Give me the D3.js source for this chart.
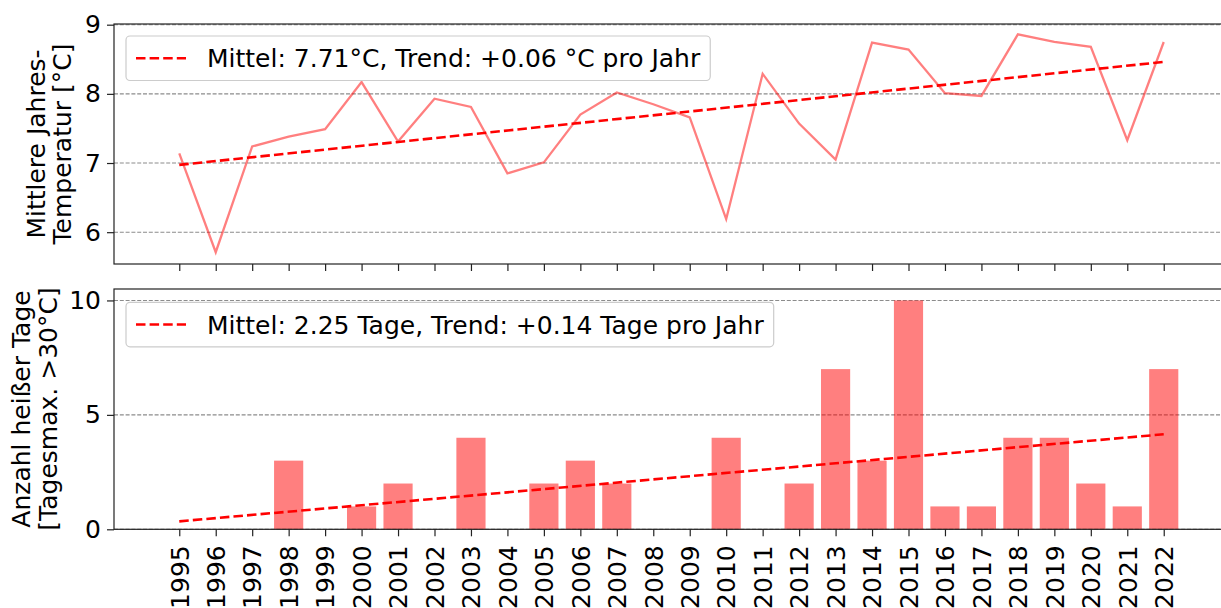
<!DOCTYPE html>
<html>
<head>
<meta charset="utf-8">
<script src="https://cdn.jsdelivr.net/npm/d3@7"></script>
<style>
  body { margin: 0; background: #fff; }
  text { font-family: "DejaVu Sans", sans-serif; fill: #000; }
</style>
</head>
<body>
<svg id="fig" width="1221" height="608"></svg>
<script>
// data
const years = [1995, 1996, 1997, 1998, 1999, 2000, 2001, 2002, 2003, 2004, 2005, 2006, 2007, 2008,
               2009, 2010, 2011, 2012, 2013, 2014, 2015, 2016, 2017, 2018, 2019, 2020, 2021, 2022];
const meanTemp = [7.14, 5.71, 7.24, 7.38, 7.49, 8.17, 7.31, 7.93, 7.81, 6.85, 7.01, 7.70, 8.02, 7.85,
                  7.66, 6.19, 8.29, 7.57, 7.05, 8.74, 8.64, 8.01, 7.97, 8.86, 8.75, 8.68, 7.33, 8.75];
const hotDays = [0, 0, 0, 3, 0, 1, 2, 0, 4, 0, 2, 3, 2, 0,
                 0, 4, 0, 2, 7, 3, 10, 1, 1, 4, 4, 2, 1, 7];
const tempTicks = [6, 7, 8, 9];
const dayTicks = [0, 5, 10];
const tempLegend = 'Mittel: 7.71°C, Trend: +0.06 °C pro Jahr';
const dayLegend = 'Mittel: 2.25 Tage, Trend: +0.14 Tage pro Jahr';
const tempLabel = ['Mittlere Jahres-', 'Temperatur [°C]'];
const dayLabel = ['Anzahl heißer Tage', '[Tagesmax. >30°C]'];

const svg = d3.select('#fig');
const fs = 25;
const left = 114, right = 1229;

const x = d3.scaleLinear().domain([1993.21, 2023.79]).range([left, right]);
const yT = d3.scaleLinear().domain([5.54, 9.01]).range([264, 24]);
const yD = d3.scaleLinear().domain([0, 10.5]).range([529.3, 289]);

// least squares fit for trend lines
const fit = (xs, ys) => {
    const mx = d3.mean(xs), my = d3.mean(ys);
    const b = d3.sum(xs, (v, i) => (v - mx) * (ys[i] - my)) / d3.sum(xs, v => (v - mx) ** 2);
    return v => my + b * (v - mx);
};

const panel = (y, ticks) => {
    const g = svg.append('g');
    // grid
    g.selectAll('line.grid').data(ticks).join('line')
        .attr('x1', left).attr('x2', right)
        .attr('y1', d => y(d)).attr('y2', d => y(d))
        .attr('stroke', '#8c8c8c').attr('stroke-width', 1.1)
        .attr('stroke-dasharray', '4 1.8');
    return g;
};

const axes = (g, y, ticks, showX) => {
    const [y0, y1] = y.range();
    const ya = g.append('g').attr('transform', `translate(${left},0)`)
        .call(d3.axisLeft(y).tickValues(ticks).tickSize(7).tickPadding(6).tickFormat(d3.format('d')));
    ya.select('.domain').remove();
    ya.selectAll('line').attr('stroke', '#222').attr('stroke-width', 1.2);
    ya.selectAll('text').style('font-size', fs + 'px').attr('font-family', 'DejaVu Sans');

    const xa = g.append('g').attr('transform', `translate(0,${y0})`)
        .call(d3.axisBottom(x).tickValues(years).tickSize(7).tickFormat(d3.format('d')));
    xa.select('.domain').remove();
    xa.selectAll('line').attr('stroke', '#222').attr('stroke-width', 1.2);
    if (showX) {
        xa.selectAll('text').style('font-size', fs + 'px')
            .attr('transform', 'rotate(-90)')
            .attr('text-anchor', 'end')
            .attr('x', -16).attr('y', 0).attr('dy', '0.35em');
    } else {
        xa.selectAll('text').remove();
    }
    g.append('rect').attr('x', left).attr('y', y1)
        .attr('width', right - left).attr('height', y0 - y1)
        .attr('fill', 'none').attr('stroke', '#222').attr('stroke-width', 1.2);
};

const legend = (g, top, label) => {
    const lg = g.append('g');
    const box = lg.append('rect').attr('x', 126).attr('y', top).attr('height', 44.5)
        .attr('rx', 4).attr('fill', '#fff').attr('fill-opacity', 0.8)
        .attr('stroke', '#ccc').attr('stroke-width', 1.2);
    const cy = top + 22.25;
    lg.append('line').attr('x1', 136).attr('x2', 186).attr('y1', cy).attr('y2', cy)
        .attr('stroke', 'red').attr('stroke-width', 2.6).attr('stroke-dasharray', '9.5 4.1');
    const t = lg.append('text').attr('x', 207).attr('y', cy).attr('dy', '0.36em')
        .style('font-size', fs + 'px').text(label);
    box.attr('width', 207 + t.node().getComputedTextLength() + 10 - 126);
};

const ylabel = (lines, bx, cy) => {
    lines.forEach((s, i) => {
        svg.append('text')
            .attr('transform', `translate(${bx[i]},${cy}) rotate(-90)`)
            .attr('text-anchor', 'middle')
            .style('font-size', fs + 'px').text(s);
    });
};

// top panel: mean annual temperature
const gT = panel(yT, tempTicks);
gT.append('path').datum(years)
    .attr('d', d3.line().x(d => x(d)).y((d, i) => yT(meanTemp[i])))
    .attr('fill', 'none').attr('stroke', 'red').attr('stroke-opacity', 0.5).attr('stroke-width', 2.3);
const fT = fit(years, meanTemp);
gT.append('line')
    .attr('x1', x(years[0])).attr('x2', x(years[years.length - 1]))
    .attr('y1', yT(fT(years[0]))).attr('y2', yT(fT(years[years.length - 1])))
    .attr('stroke', 'red').attr('stroke-width', 2.6).attr('stroke-dasharray', '9.5 4.1');
axes(gT, yT, tempTicks, false);
legend(gT, 36, tempLegend);

// bottom panel: hot days
const gD = panel(yD, dayTicks);
const bw = (x(1) - x(0)) * 0.8;
gD.selectAll('rect.bar').data(years).join('rect').attr('class', 'bar')
    .attr('x', d => x(d) - bw / 2).attr('width', bw)
    .attr('y', (d, i) => yD(hotDays[i])).attr('height', (d, i) => yD(0) - yD(hotDays[i]))
    .attr('fill', 'red').attr('fill-opacity', 0.5);
const fD = fit(years, hotDays);
gD.append('line')
    .attr('x1', x(years[0])).attr('x2', x(years[years.length - 1]))
    .attr('y1', yD(fD(years[0]))).attr('y2', yD(fD(years[years.length - 1])))
    .attr('stroke', 'red').attr('stroke-width', 2.6).attr('stroke-dasharray', '9.5 4.1');
axes(gD, yD, dayTicks, true);
legend(gD, 302.3, dayLegend);

ylabel(tempLabel, [44.5, 71], 144);
ylabel(dayLabel, [30, 57], 409);
</script>
</body>
</html>
